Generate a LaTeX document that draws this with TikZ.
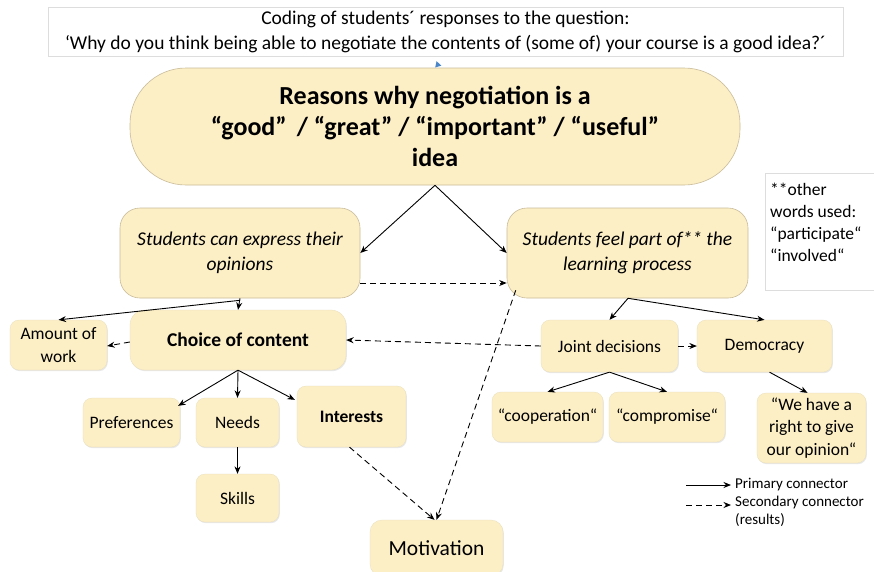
\documentclass[tikz,border=0pt]{standalone}
\usepackage{fontspec}
\setmainfont{Carlito}
\usetikzlibrary{arrows.meta,shadows}
\definecolor{boxfill}{HTML}{FCEFC6}
\definecolor{boxline}{HTML}{C9BC9A}
\definecolor{noteline}{HTML}{DDDDDD}
\definecolor{tipblue}{HTML}{4A86C8}
\tikzset{
  box/.style={fill=boxfill, draw=boxline, line width=0.6pt, rounded corners=20pt, align=center, inner sep=2pt},
  smallbox/.style={fill=boxfill, draw=boxfill!85!gray, line width=0.3pt, rounded corners=9pt, align=center, inner sep=2pt,
    drop shadow={shadow xshift=0.8pt, shadow yshift=-1.2pt, opacity=0.18}},
  arr/.style={-{Stealth[length=7.5pt,width=6pt]}, line width=0.9pt, black},
  darr/.style={-{Stealth[length=7.5pt,width=6pt]}, line width=0.9pt, black, dash pattern=on 6pt off 4pt},
  smallfont/.style={font=\fontsize{17.5}{23}\selectfont},
}
\begin{document}
\begin{tikzpicture}[x=1pt,y=-1pt]
\useasboundingbox (0,0) rectangle (874,571);
\clip (0,0) rectangle (874,571);
\fill[white] (0,0) rectangle (874,571);

% header
\node[draw=noteline, line width=0.5pt, minimum width=795pt, minimum height=49pt, align=center, font=\fontsize{19.5}{25}\selectfont, inner sep=0pt] (top) at (445.5,31.5) {Coding of students´ responses to the question:\\`Why do you think being able to negotiate the contents of (some of) your course is a good idea?´};

% main
\node[box, rounded corners=56pt, minimum width=610pt, minimum height=117pt, font=\fontsize{26}{31}\bfseries\selectfont] (main) at (435,126.5) {Reasons why negotiation is a\\“good”\, / “great” / “important” / “useful”\\idea};

\draw[-{Triangle[length=6pt,width=7pt,fill=tipblue]}, tipblue, line width=0.3pt, draw opacity=0] (top.south) -- (main.north);

% level 2
\node[box, minimum width=240pt, minimum height=90pt, font=\fontsize{19.5}{25}\itshape\selectfont] (left) at (240,253) {Students can express their\\opinions};
\node[box, minimum width=241pt, minimum height=90pt, font=\fontsize{19.5}{25}\itshape\selectfont] (right) at (627.5,253) {Students feel part of** the\\learning process};

% note
\node[draw=noteline, line width=0.5pt, minimum width=120pt, minimum height=117pt, anchor=north west] (note) at (765,173) {};
\node[anchor=north west, align=left, inner sep=0pt, font=\fontsize{17.5}{22}\selectfont] (notetext) at (770,183) {**other\\words used:\\“participate“\\“involved“};

% level 3
\node[smallbox, smallfont, minimum width=97pt, minimum height=50pt] (amount) at (58.5,345) {Amount of\\work};
\node[smallbox, rounded corners=15pt, minimum width=216pt, minimum height=60pt, font=\fontsize{19.5}{22}\bfseries\selectfont] (choice) at (238,340) {Choice of content};
\node[smallbox, smallfont, minimum width=137pt, minimum height=52pt] (joint) at (609.5,346) {Joint decisions};
\node[smallbox, smallfont, minimum width=135pt, minimum height=52pt] (demo) at (764.5,346) {Democracy};

% level 4
\node[smallbox, smallfont, minimum width=97pt, minimum height=49pt] (prefs) at (131.5,422.5) {Preferences};
\node[smallbox, smallfont, minimum width=83pt, minimum height=49pt] (needs) at (237.5,422.5) {Needs};
\node[smallbox, minimum width=109pt, minimum height=61pt, font=\fontsize{17.5}{22}\bfseries\selectfont] (interests) at (351.5,416.5) {Interests};
\node[smallbox, smallfont, minimum width=83pt, minimum height=48pt] (skills) at (237.5,498) {Skills};
\node[smallbox, rounded corners=12pt, minimum width=133pt, minimum height=56pt, font=\fontsize{21.5}{24}\selectfont] (motiv) at (436.5,548) {Motivation};
\node[smallbox, smallfont, minimum width=111pt, minimum height=50pt] (coop) at (547.5,417) {“cooperation“};
\node[smallbox, smallfont, minimum width=116pt, minimum height=50pt] (comp) at (667,417) {“compromise“};
\node[smallbox, minimum width=109pt, minimum height=70pt, font=\fontsize{17.5}{22.5}\selectfont] (we) at (811.5,428) {“We have a\\right to give\\our opinion“};

% connectors
\draw[arr] (main.south) -- (left.east);
\draw[arr] (main.south) -- (right.west);
\draw[darr] ([yshift=-30pt]left.east) -- ([yshift=-30pt]right.west);
\draw[arr] (left.south) -- (choice.north);
\draw[arr] ([yshift=-2pt]left.south) -- (amount.north);
\draw[darr] ([yshift=-2pt]choice.west) -- ([yshift=-1pt]amount.east);
\draw[arr] ([xshift=0.5pt]right.south) -- (joint.north);
\draw[arr] ([xshift=0.5pt]right.south) -- (demo.north);
\draw[darr] (joint.west) -- (choice.east);
\draw[darr] (joint.east) -- (demo.west);
\draw[arr] (choice.south) -- ([xshift=-2pt,yshift=-8pt]prefs.north east);
\draw[arr] (choice.south) -- (needs.north);
\draw[arr] (choice.south) -- ([xshift=-2pt,yshift=-14pt]interests.north west);
\draw[arr] (needs.south) -- (skills.north);
\draw[darr] ([xshift=-2pt]interests.south) -- ([xshift=-2pt]motiv.north);
\draw[darr] ([xshift=9pt,yshift=8pt]right.south west) -- ([xshift=0pt]motiv.north);
\draw[arr] (joint.south) -- (coop.north);
\draw[arr] (joint.south) -- (comp.north);
\draw[arr] ([xshift=5pt]demo.south) -- ([xshift=-4pt]we.north);

% legend
\coordinate (l1a) at (686,485); \coordinate (l1b) at (731,485);
\coordinate (l2a) at (686,505); \coordinate (l2b) at (731,505);
\draw[arr] (l1a) -- (l1b);
\draw[darr] (l2a) -- (l2b);
\node[anchor=west, inner sep=0pt, font=\fontsize{15}{17}\selectfont] (lt1) at (735,485) {Primary connector};
\node[anchor=north west, align=left, inner sep=0pt, font=\fontsize{15}{17.5}\selectfont] (lt2) at (735,496) {Secondary connector\\(results)};
\end{tikzpicture}
\end{document}
